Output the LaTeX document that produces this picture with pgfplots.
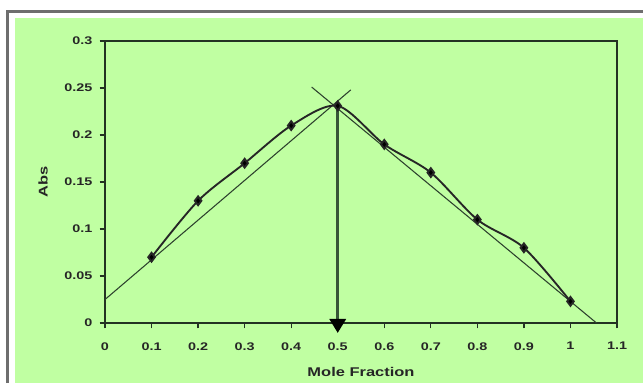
\documentclass[border=0pt]{standalone}
\usepackage{pgfplots}
\pgfplotsset{compat=1.18}
\usepackage{fontspec}
\setmainfont{Liberation Sans}
\newfontfamily\widefont[FakeStretch=1.3]{Liberation Sans}
\usetikzlibrary{arrows.meta}
\definecolor{bggreen}{RGB}{192,255,162}
\definecolor{tang}{RGB}{45,65,45}
\definecolor{arrowc}{RGB}{55,85,55}
\definecolor{axc}{RGB}{35,50,35}
\definecolor{frame}{RGB}{110,110,110}
\begin{document}
\begin{tikzpicture}
\begin{scope}[x=0.75pt,y=0.75pt]
\useasboundingbox (0,0) rectangle (643,383);
\fill[white] (0,0) rectangle (643,383);
\fill[bggreen] (15,0) rectangle (643,365);
\draw[line width=1.6pt, frame] (7.5,0) -- (7.5,371.5) -- (643,371.5);
\end{scope}
\begin{axis}[
  at={(78.75pt,45pt)}, anchor=south west,
  scale only axis, width=384pt, height=211.5pt,
  xmin=0, xmax=1.1, ymin=0, ymax=0.3,
  clip=false,
  axis line style={line width=1.4pt, axc},
  tick style={line width=0.9pt, axc},
  tick align=outside, major tick length=4pt,
  xtick pos=left, ytick pos=left,
  xtick={0,0.1,0.2,0.3,0.4,0.5,0.6,0.7,0.8,0.9,1,1.1},
  ytick={0,0.05,0.1,0.15,0.2,0.25,0.3},
  /pgf/number format/assume math mode=true,
  /pgf/number format/fixed, /pgf/number format/precision=2,
  ticklabel style={font=\widefont\bfseries\fontsize{8.3}{10}\selectfont, text=black!85},
  xticklabel style={yshift=-7pt},
  yticklabel style={xshift=-2pt},
  xlabel={Mole Fraction}, ylabel={Abs},
  label style={font=\widefont\bfseries\fontsize{9.5}{11}\selectfont, text=black!85},
  xlabel style={at={(axis description cs:0.5,0)}, anchor=center, yshift=-36.75pt},
  ylabel style={at={(axis description cs:-0.121,0.5)}, anchor=center},
]
\addplot[line width=0.8pt, tang] coordinates {(0,0.025) (0.528,0.248)};
\addplot[line width=0.8pt, tang] coordinates {(0.444,0.251) (1.056,0)};
\addplot[line width=2.4pt, arrowc, -{Triangle[width=12pt,length=10.5pt,black]}] coordinates {(0.5,0.23) (0.5,-0.0106)};
\addplot[smooth, line width=1.4pt, black!85, mark=diamond*, mark size=3.3pt, mark options={fill=black, solid}] coordinates {
(0.1,0.07) (0.2,0.13) (0.3,0.17) (0.4,0.21) (0.5,0.231) (0.6,0.19) (0.7,0.16) (0.8,0.11) (0.9,0.08) (1.0,0.023)};
\end{axis}
\end{tikzpicture}
\end{document}
